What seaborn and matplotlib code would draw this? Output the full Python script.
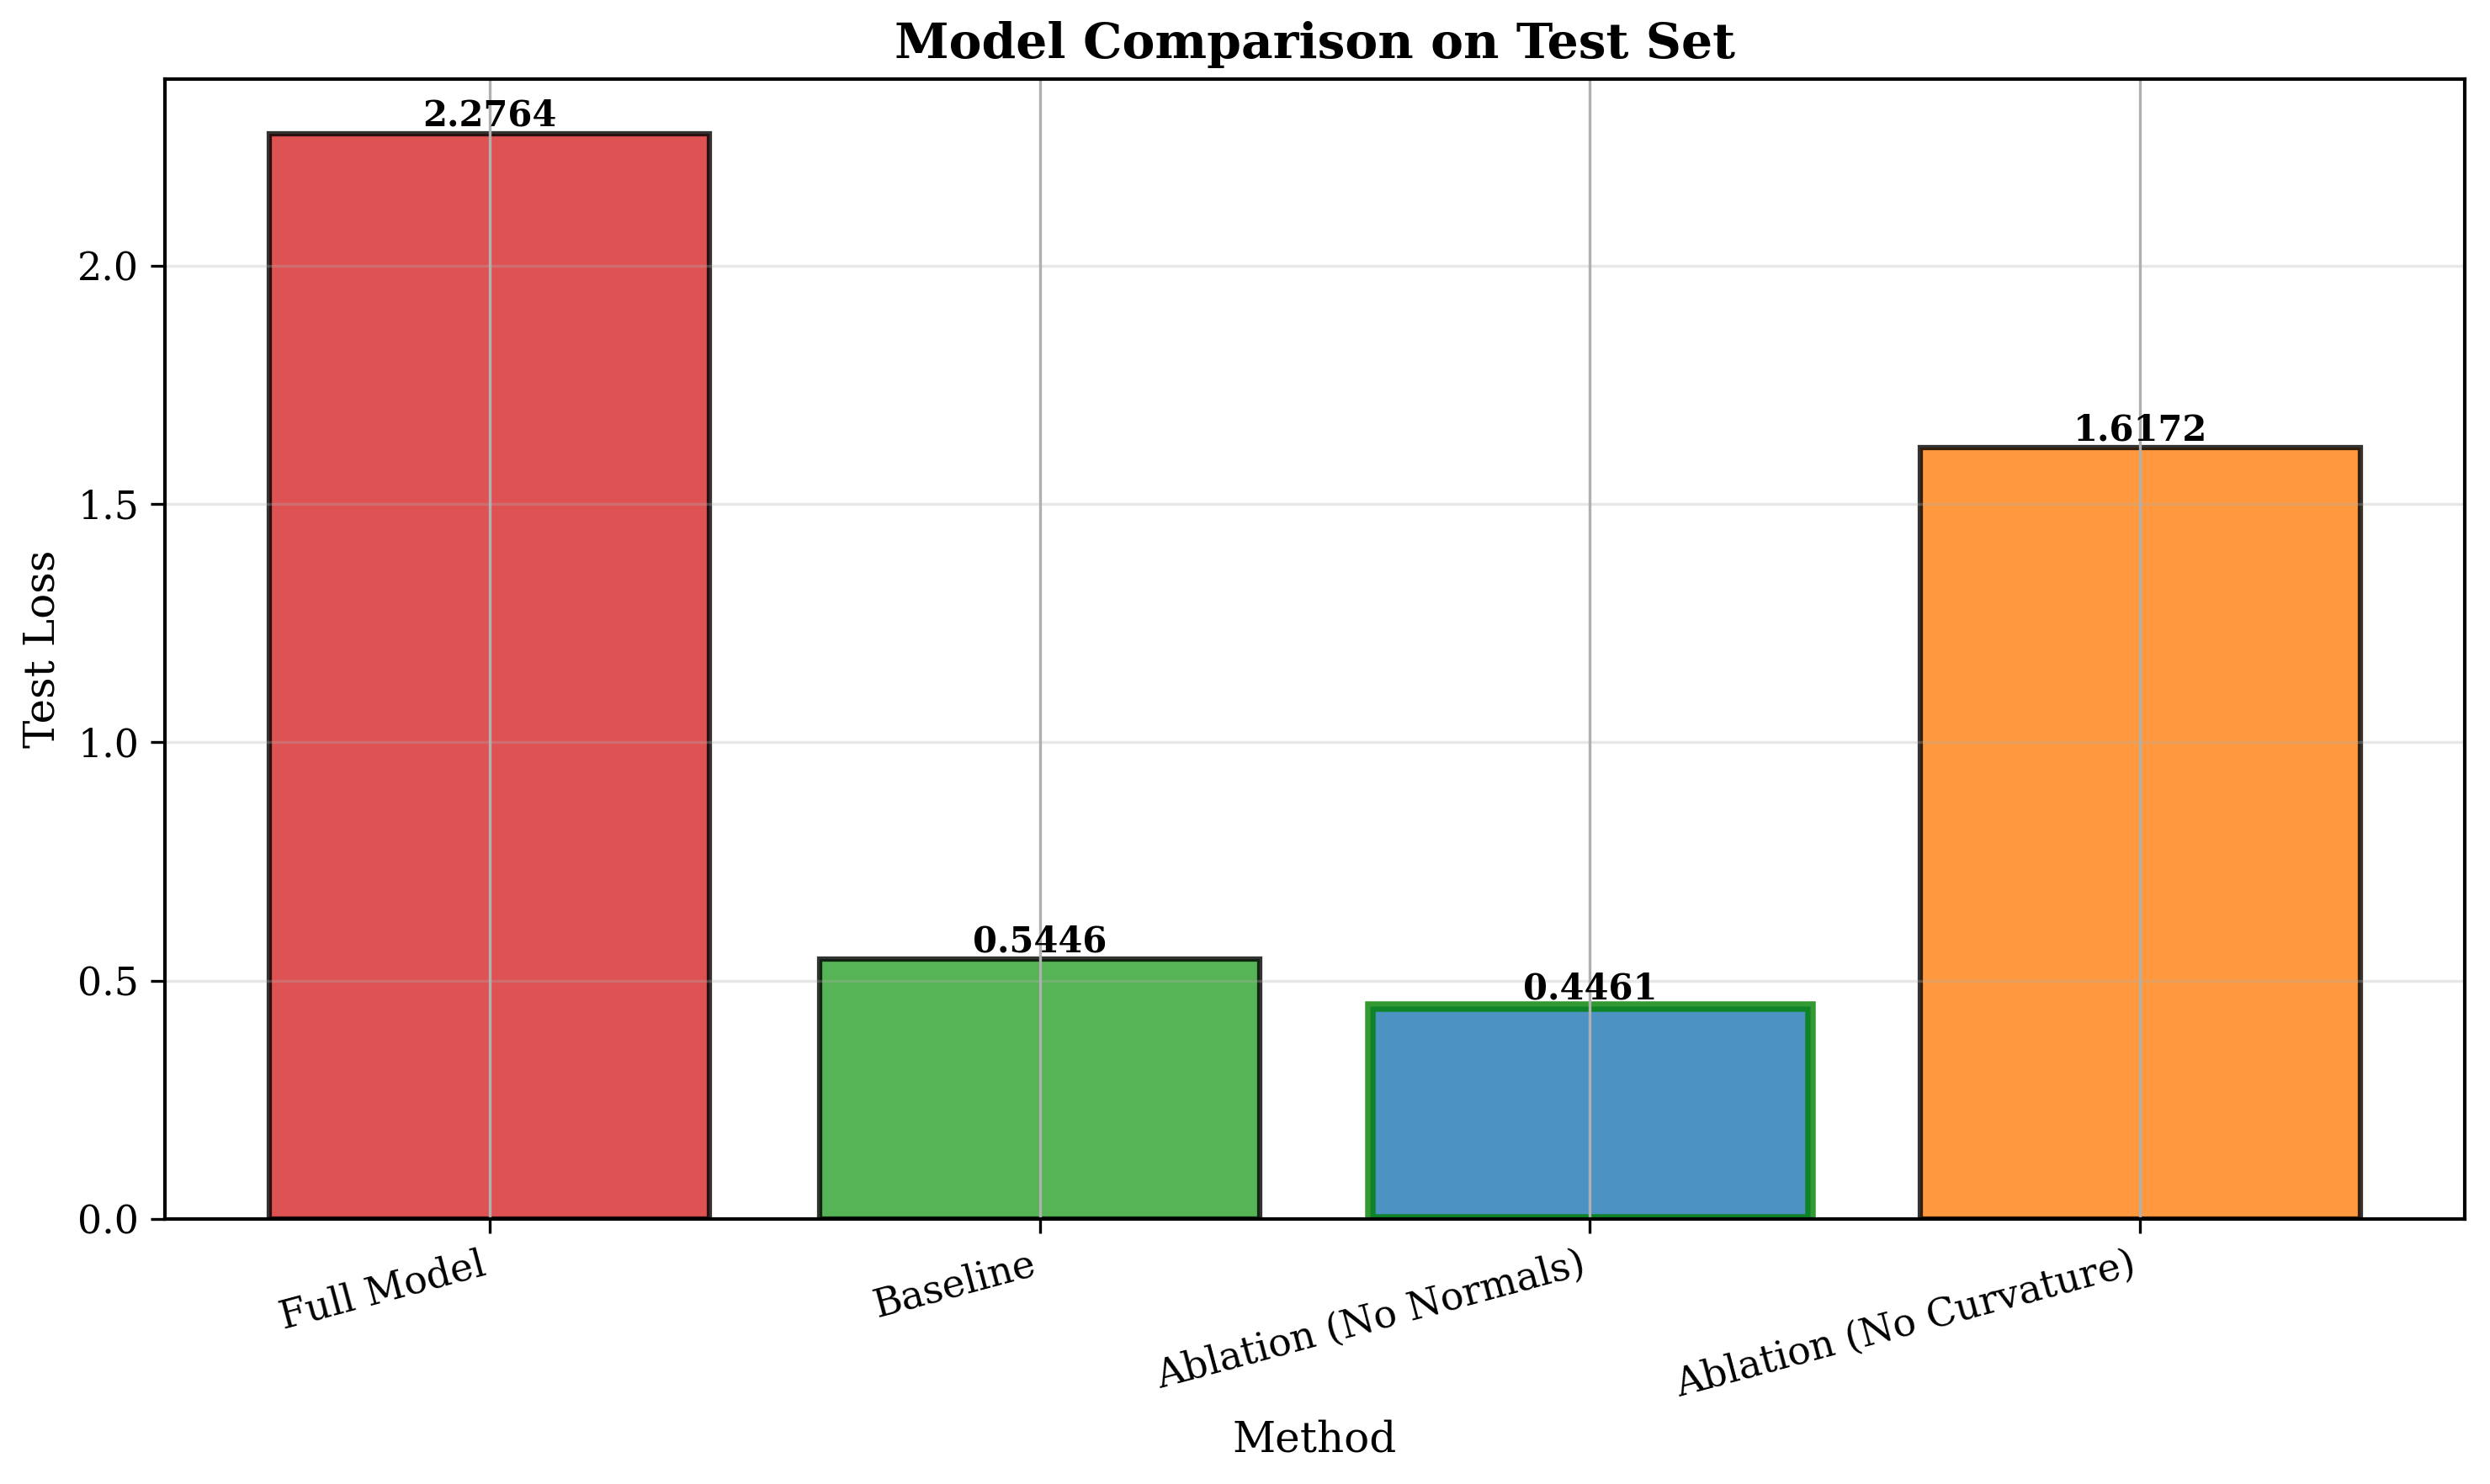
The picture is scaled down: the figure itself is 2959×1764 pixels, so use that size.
import matplotlib
matplotlib.use("Agg")
import matplotlib.pyplot as plt
import seaborn as sns
import pandas as pd

methods = ["Full Model", "Baseline", "Ablation (No Normals)", "Ablation (No Curvature)"]
losses = [2.2764, 0.5446, 0.4461, 1.6172]
colors = ["#d62728", "#2ca02c", "#1f77b4", "#ff7f0e"]
best_method = "Ablation (No Normals)"

sns.set_style("ticks")
plt.rcParams["font.family"] = ["DejaVu Serif"]
plt.rcParams["axes.grid"] = True
plt.rcParams["grid.color"] = "#b0b0b0"
plt.rcParams["grid.linewidth"] = 0.8
for k in ["text.color", "axes.labelcolor", "xtick.color", "ytick.color", "axes.edgecolor"]:
    plt.rcParams[k] = "black"

df = pd.DataFrame({"Method": methods, "Loss": losses})

fig, ax = plt.subplots(figsize=(2959 / 300, 1764 / 300), dpi=300)
sns.barplot(data=df, x="Method", y="Loss", hue="Method", palette=colors,
            order=methods, hue_order=methods, dodge=False, legend=False,
            saturation=1, width=0.8, ax=ax)

for patch, m in zip(ax.patches, methods):
    patch.set_alpha(0.8)
    if m == best_method:
        patch.set_edgecolor("green")
        patch.set_linewidth(3)
    else:
        patch.set_edgecolor("black")
        patch.set_linewidth(1.5)

for patch, v in zip(ax.patches, losses):
    ax.text(patch.get_x() + patch.get_width() / 2, patch.get_height(), f"{v:.4f}",
            ha="center", va="bottom", fontsize=10, fontweight="bold", color="black")

ax.grid(True, axis="x", color="#b0b0b0", linewidth=0.8)
ax.grid(True, axis="y", alpha=0.3)
ax.set_axisbelow("line")
for s in ax.spines.values():
    s.set_visible(True)
    s.set_color("black")
    s.set_linewidth(1.0)
ax.tick_params(axis="both", labelsize=11, direction="out", length=4, color="black")
ax.set_xticks(range(len(methods)))
ax.set_xticklabels(methods, rotation=15, ha="right")
ax.set_xlabel("Method", fontsize=12)
ax.set_ylabel("Test Loss", fontsize=12)
ax.set_title("Model Comparison on Test Set", fontsize=14, fontweight="bold")
ax.set_xlim(-0.59, 3.59)
ax.set_ylim(0, max(losses) * 1.05)

fig.subplots_adjust(left=0.0663, right=0.9898, top=0.9465, bottom=0.1786)
fig.savefig("out.png", dpi=300)
